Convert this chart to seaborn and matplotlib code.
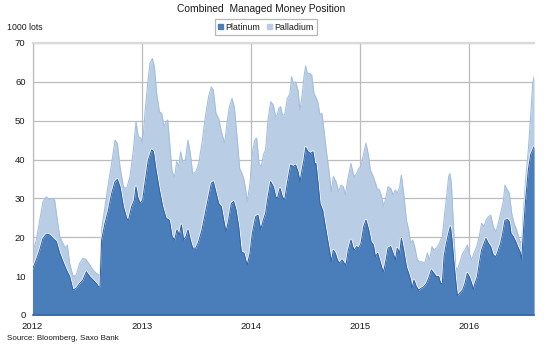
import numpy as np
import pandas as pd
import matplotlib
matplotlib.use("Agg")
import matplotlib.pyplot as plt
import seaborn as sns
from matplotlib.patches import Patch

# ---- data (1000 lots), time as decimal year ----
plat_year = [
    2012.000, 2012.035, 2012.066, 2012.096, 2012.127, 2012.157, 2012.188, 2012.218, 2012.249, 2012.279,
    2012.310, 2012.340, 2012.371, 2012.401, 2012.432, 2012.462, 2012.493, 2012.524, 2012.554, 2012.585,
    2012.609, 2012.618, 2012.633, 2012.664, 2012.695, 2012.725, 2012.756, 2012.777, 2012.801, 2012.832,
    2012.862, 2012.878, 2012.908, 2012.933, 2012.948, 2012.963, 2012.985, 2013.009, 2013.030, 2013.061,
    2013.092, 2013.107, 2013.131, 2013.162, 2013.192, 2013.223, 2013.253, 2013.278, 2013.302, 2013.323,
    2013.345, 2013.363, 2013.384, 2013.406, 2013.424, 2013.445, 2013.467, 2013.497, 2013.522, 2013.552,
    2013.583, 2013.613, 2013.638, 2013.656, 2013.674, 2013.705, 2013.729, 2013.751, 2013.772, 2013.796,
    2013.821, 2013.842, 2013.864, 2013.888, 2013.912, 2013.937, 2013.952, 2013.967, 2013.992, 2014.013,
    2014.044, 2014.065, 2014.090, 2014.114, 2014.135, 2014.157, 2014.181, 2014.206, 2014.227, 2014.242,
    2014.267, 2014.288, 2014.309, 2014.334, 2014.364, 2014.389, 2014.410, 2014.431, 2014.450, 2014.471,
    2014.486, 2014.502, 2014.523, 2014.548, 2014.569, 2014.587, 2014.596, 2014.612, 2014.633, 2014.657,
    2014.682, 2014.703, 2014.725, 2014.737, 2014.755, 2014.773, 2014.792, 2014.810, 2014.835, 2014.856,
    2014.871, 2014.892, 2014.917, 2014.932, 2014.947, 2014.969, 2014.987, 2015.008, 2015.033, 2015.054,
    2015.079, 2015.100, 2015.122, 2015.140, 2015.161, 2015.183, 2015.201, 2015.216, 2015.238, 2015.256,
    2015.280, 2015.302, 2015.323, 2015.341, 2015.363, 2015.378, 2015.399, 2015.424, 2015.445, 2015.463,
    2015.476, 2015.494, 2015.515, 2015.537, 2015.561, 2015.585, 2015.607, 2015.628, 2015.653, 2015.677,
    2015.698, 2015.720, 2015.738, 2015.753, 2015.769, 2015.790, 2015.811, 2015.827, 2015.842, 2015.857,
    2015.875, 2015.891, 2015.912, 2015.939, 2015.961, 2015.982, 2016.000, 2016.022, 2016.037, 2016.052,
    2016.074, 2016.092, 2016.113, 2016.135, 2016.153, 2016.175, 2016.196, 2016.220, 2016.245, 2016.266,
    2016.287, 2016.306, 2016.327, 2016.349, 2016.367, 2016.382, 2016.403, 2016.425, 2016.443, 2016.465,
    2016.480, 2016.495, 2016.516, 2016.541, 2016.562, 2016.581, 2016.593,
]
plat_value = [
    11.7, 14.2, 16.7, 19.7, 20.8, 20.6, 19.7, 18.9, 15.9, 13.7,
    11.6, 9.9, 6.4, 6.9, 8.1, 9.0, 11.1, 9.9, 9.0, 8.1,
    7.1, 7.3, 19.3, 23.6, 27.0, 31.3, 34.3, 34.9, 33.0, 27.9,
    24.9, 24.3, 27.9, 29.6, 33.0, 30.4, 28.7, 29.6, 33.9, 39.9,
    42.5, 42.0, 37.3, 32.2, 27.9, 24.9, 24.4, 20.2, 19.3, 21.9,
    20.6, 23.2, 19.3, 20.2, 21.9, 19.3, 17.2, 17.2, 18.9, 21.9,
    26.2, 30.4, 33.9, 34.3, 32.2, 28.7, 27.9, 24.4, 21.4, 24.4,
    28.7, 29.2, 27.0, 22.7, 16.3, 15.9, 14.2, 12.9, 15.9, 21.0,
    25.3, 25.7, 21.9, 24.4, 26.2, 30.4, 34.3, 33.0, 30.4, 30.0,
    32.6, 30.4, 29.6, 33.9, 38.6, 38.2, 38.6, 36.9, 34.3, 37.7,
    39.9, 43.1, 42.0, 41.6, 42.0, 38.6, 39.0, 34.7, 28.7, 27.0,
    22.7, 19.3, 15.9, 13.7, 16.7, 15.9, 14.2, 13.3, 14.2, 13.3,
    12.9, 16.7, 19.3, 17.6, 16.7, 17.6, 17.2, 18.4, 22.7, 24.4,
    21.9, 18.9, 18.0, 15.0, 15.9, 13.7, 12.0, 11.1, 14.2, 17.2,
    17.6, 15.9, 14.2, 17.2, 15.9, 19.7, 16.7, 12.4, 10.7, 9.0,
    6.9, 9.0, 7.3, 6.4, 6.9, 7.3, 8.1, 9.4, 11.6, 10.7,
    9.9, 9.9, 8.1, 8.1, 15.0, 18.4, 21.0, 22.7, 19.3, 14.2,
    9.0, 4.9, 5.6, 6.4, 8.1, 10.7, 9.9, 8.1, 6.6, 8.1,
    9.9, 13.3, 16.7, 18.4, 19.7, 18.4, 17.6, 15.4, 15.0, 16.7,
    18.4, 21.0, 24.4, 24.6, 24.0, 21.0, 20.2, 18.9, 17.6, 16.3,
    14.2, 21.0, 29.6, 37.3, 41.2, 42.5, 43.3,
]

# combined (platinum + palladium) position
comb_year = [
    2012.000, 2012.035, 2012.066, 2012.096, 2012.127, 2012.157, 2012.179, 2012.203, 2012.227, 2012.249,
    2012.279, 2012.301, 2012.319, 2012.340, 2012.371, 2012.401, 2012.432, 2012.462, 2012.493, 2012.524,
    2012.554, 2012.585, 2012.609, 2012.618, 2012.633, 2012.664, 2012.695, 2012.725, 2012.756, 2012.777,
    2012.801, 2012.832, 2012.862, 2012.893, 2012.924, 2012.948, 2012.969, 2012.994, 2013.009, 2013.030,
    2013.055, 2013.076, 2013.098, 2013.116, 2013.137, 2013.162, 2013.183, 2013.204, 2013.223, 2013.238,
    2013.259, 2013.278, 2013.302, 2013.320, 2013.339, 2013.357, 2013.375, 2013.400, 2013.424, 2013.445,
    2013.467, 2013.497, 2013.522, 2013.552, 2013.583, 2013.613, 2013.638, 2013.656, 2013.680, 2013.705,
    2013.729, 2013.760, 2013.781, 2013.803, 2013.827, 2013.848, 2013.873, 2013.897, 2013.919, 2013.937,
    2013.952, 2013.967, 2013.992, 2014.013, 2014.035, 2014.053, 2014.074, 2014.096, 2014.114, 2014.135,
    2014.157, 2014.181, 2014.206, 2014.227, 2014.242, 2014.257, 2014.273, 2014.288, 2014.309, 2014.334,
    2014.358, 2014.373, 2014.389, 2014.410, 2014.431, 2014.450, 2014.471, 2014.486, 2014.502, 2014.517,
    2014.538, 2014.557, 2014.578, 2014.596, 2014.612, 2014.633, 2014.651, 2014.673, 2014.694, 2014.718,
    2014.737, 2014.755, 2014.780, 2014.804, 2014.825, 2014.847, 2014.865, 2014.886, 2014.917, 2014.932,
    2014.947, 2014.969, 2014.987, 2015.008, 2015.033, 2015.054, 2015.076, 2015.094, 2015.115, 2015.137,
    2015.155, 2015.177, 2015.198, 2015.216, 2015.238, 2015.256, 2015.280, 2015.302, 2015.323, 2015.341,
    2015.363, 2015.378, 2015.399, 2015.424, 2015.445, 2015.463, 2015.482, 2015.500, 2015.524, 2015.546,
    2015.567, 2015.592, 2015.616, 2015.637, 2015.659, 2015.677, 2015.698, 2015.720, 2015.738, 2015.753,
    2015.775, 2015.796, 2015.811, 2015.823, 2015.836, 2015.854, 2015.875, 2015.891, 2015.912, 2015.939,
    2015.961, 2015.982, 2016.000, 2016.022, 2016.043, 2016.068, 2016.092, 2016.113, 2016.135, 2016.153,
    2016.175, 2016.196, 2016.220, 2016.245, 2016.266, 2016.287, 2016.312, 2016.327, 2016.349, 2016.367,
    2016.388, 2016.410, 2016.434, 2016.458, 2016.480, 2016.495, 2016.516, 2016.541, 2016.562, 2016.581,
    2016.593,
]
comb_value = [
    15.9, 19.3, 24.4, 29.2, 30.4, 29.6, 30.0, 29.6, 24.4, 20.2,
    18.4, 17.2, 18.0, 13.3, 9.9, 10.3, 13.3, 14.6, 14.2, 12.9,
    11.6, 10.7, 10.3, 10.5, 21.9, 27.9, 33.9, 39.0, 45.0, 44.2,
    38.2, 33.0, 32.6, 35.6, 42.5, 49.7, 45.9, 45.5, 44.2, 51.9,
    59.6, 64.8, 66.0, 63.9, 57.0, 52.3, 51.9, 48.5, 49.7, 50.2,
    43.3, 36.9, 35.6, 39.5, 38.2, 42.0, 39.5, 39.9, 45.0, 41.6,
    36.4, 36.9, 39.0, 44.2, 51.0, 56.2, 58.7, 57.9, 51.9, 50.6,
    47.2, 44.2, 49.3, 53.6, 55.7, 53.6, 45.9, 37.7, 36.4, 34.8,
    32.2, 29.2, 33.9, 41.6, 45.0, 45.5, 39.0, 38.2, 41.2, 42.5,
    50.2, 54.9, 54.0, 51.0, 51.5, 53.2, 53.6, 51.5, 51.5, 55.7,
    57.0, 61.3, 59.6, 60.0, 57.9, 52.7, 57.0, 61.3, 64.1, 62.2,
    62.2, 61.7, 57.0, 56.0, 54.9, 51.5, 51.9, 46.7, 41.6, 36.4,
    31.7, 35.6, 34.3, 31.7, 33.4, 33.0, 30.9, 34.7, 39.0, 36.9,
    35.6, 36.4, 37.7, 38.2, 41.6, 44.2, 41.2, 37.3, 36.0, 34.3,
    32.6, 32.2, 30.4, 27.9, 30.4, 33.0, 32.6, 30.9, 32.2, 31.3,
    33.0, 36.0, 31.3, 24.4, 21.9, 18.4, 19.3, 17.6, 14.2, 13.7,
    13.7, 13.3, 15.9, 14.2, 17.6, 16.7, 17.2, 18.0, 19.3, 20.2,
    26.2, 31.3, 35.6, 36.4, 33.9, 23.6, 12.4, 11.6, 13.3, 15.9,
    16.7, 18.0, 15.9, 14.2, 15.9, 17.6, 20.2, 23.6, 22.7, 24.4,
    25.3, 25.7, 22.7, 21.4, 23.6, 26.2, 29.2, 33.4, 32.2, 31.3,
    26.2, 23.6, 21.9, 19.3, 18.4, 26.2, 34.7, 42.5, 51.0, 59.6,
    61.3,
]

series_names = ["Platinum", "Palladium"]
year_ticks = [2012, 2013, 2014, 2015, 2016]
year_labels = ["2012", "2013", "2014", "2015", "2016"]
y_ticks = [0, 10, 20, 30, 40, 50, 60, 70]

title = "Combined  Managed Money Position"
y_unit = "1000 lots"
source = "Source: Bloomberg, Saxo Bank"

# ---- styling ----
sns.set_theme(style="white")
plt.rcParams['font.family'] = ['Liberation Sans', 'DejaVu Sans']

dark = "#4a7ebb"
dark_edge = "#3465a8"
light = "#b9cde5"
light_edge = "#a5bfdd"
grid_col = "#bcbcbc"
txt = "#1a1a1a"

W, H = 550, 346
fig = plt.figure(figsize=(W / 100, H / 100), dpi=100)
ax = fig.add_axes([32.5 / W, 1 - 315 / H, (534 - 32.5) / W, (315 - 43) / H])

df_p = pd.DataFrame({"year": plat_year, "value": plat_value})
df_c = pd.DataFrame({"year": comb_year, "value": comb_value})

# combined (palladium stacked on platinum)
ax.fill_between(df_c["year"], 0, df_c["value"], color=light, lw=0, zorder=2)
sns.lineplot(data=df_c, x="year", y="value", ax=ax, color=light_edge, lw=0.8, zorder=3)

# platinum: white halo, then fill, then edge
sns.lineplot(data=df_p, x="year", y="value", ax=ax, color="white", lw=1.9, zorder=4)
ax.fill_between(df_p["year"], 0, df_p["value"], color=dark, lw=0, zorder=4.6)
sns.lineplot(data=df_p, x="year", y="value", ax=ax, color=dark_edge, lw=0.8, zorder=5)

ax.set_xlim(plat_year[0], plat_year[-1])
ax.set_ylim(0, 70)
ax.set_xticks(year_ticks)
ax.set_xticklabels(year_labels)
ax.set_yticks(y_ticks)
ax.set_xlabel("")
ax.set_ylabel("")
ax.tick_params(axis="both", length=0, labelsize=6.8, colors=txt)
ax.tick_params(axis="y", pad=5)
ax.tick_params(axis="x", pad=5)

ax.set_axisbelow(True)
ax.grid(True, color=grid_col, lw=0.9)
ax.spines["right"].set_visible(False)
ax.spines["top"].set_color("#dadada")
ax.spines["top"].set_linewidth(1.6)
ax.spines["left"].set_color("#bdbdbd")
ax.spines["left"].set_linewidth(0.9)
ax.spines["bottom"].set_color(dark_edge)
ax.spines["bottom"].set_linewidth(1.2)
ax.spines["bottom"].set_zorder(6)

handles = [Patch(facecolor=dark, edgecolor=dark), Patch(facecolor=light, edgecolor=light)]
leg = fig.legend(handles, series_names, loc="center", bbox_to_anchor=(266 / W, 1 - 27 / H),
                 ncol=2, fontsize=6.4, frameon=True, fancybox=False, handlelength=0.5,
                 handleheight=0.5, handletextpad=0.3, columnspacing=0.8, borderpad=0.35,
                 edgecolor="#a6a6a6")
leg.get_frame().set_linewidth(0.9)
for t in leg.get_texts():
    t.set_color(txt)

fig.text(261 / W, 1 - 9.5 / H, title, ha="center", va="center", fontsize=7.4, color=txt)
fig.text(7 / W, 1 - 27 / H, y_unit, ha="left", va="center", fontsize=6.3, color=txt)
fig.text(7 / W, 1 - 338 / H, source, ha="left", va="center", fontsize=5.8, color=txt)

fig.savefig("out.png", dpi=100)
